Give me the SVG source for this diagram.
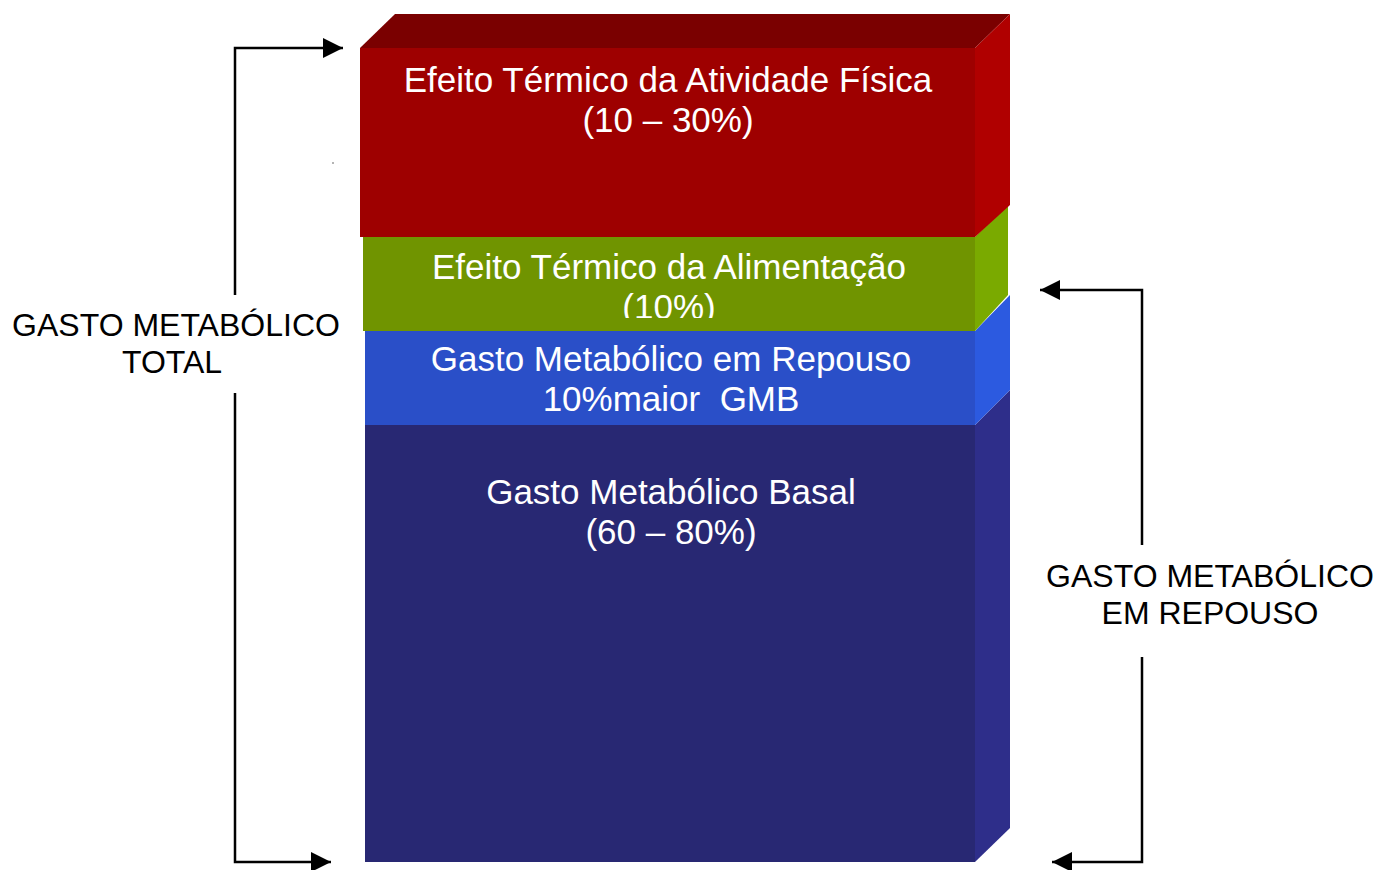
<svg xmlns="http://www.w3.org/2000/svg" width="1380" height="870" viewBox="0 0 1380 870">
<style>
.t{font-family:"Liberation Sans",Arial,sans-serif;font-size:35px;fill:#ffffff;text-anchor:middle;white-space:pre}
.l{font-family:"Liberation Sans",Arial,sans-serif;font-size:32px;fill:#000000;text-anchor:middle}
.c{fill:none;stroke:#000;stroke-width:2.5}
</style>
<defs>
<marker id="ah" viewBox="0 0 10 10" refX="10" refY="5" markerWidth="20" markerHeight="22" markerUnits="userSpaceOnUse" orient="auto">
<path d="M0,0 L10,5 L0,10 Z" fill="#000"/>
</marker>
<clipPath id="gclip"><rect x="360" y="237" width="620" height="81"/></clipPath>
</defs>
<rect width="1380" height="870" fill="#ffffff"/>
<g id="basal">
<rect x="365" y="425" width="610" height="437" fill="#282873"/>
<polygon points="975,425 1010,390 1010,828 975,862" fill="#2e2e8a"/>
<text class="t" x="671" y="504">Gasto Metabólico Basal</text>
<text class="t" x="671" y="544">(60 – 80%)</text>
</g>
<g id="repouso">
<rect x="365" y="331" width="610" height="94" fill="#2a4fc8"/>
<polygon points="975,331 1010,295 1010,390 975,425" fill="#2c5ae0"/>
<text class="t" x="671" y="371">Gasto Metabólico em Repouso</text>
<text class="t" x="671" y="411" xml:space="preserve">10%maior  GMB</text>
</g>
<g id="alimentacao">
<rect x="363" y="237" width="612" height="94" fill="#709400"/>
<polygon points="975,237 1008,205 1008,295 975,331" fill="#7aaa00"/>
<g clip-path="url(#gclip)">
<text class="t" x="669" y="279">Efeito Térmico da Alimentação</text>
<text class="t" x="669" y="319">(10%)</text>
</g>
</g>
<g id="atividade">
<polygon points="360,48 395,14 1010,14 975,48" fill="#7a0000"/>
<polygon points="975,48 1010,14 1010,205 975,237" fill="#b00000"/>
<rect x="360" y="48" width="615" height="189" fill="#9e0000"/>
<text class="t" x="668" y="92">Efeito Térmico da Atividade Física</text>
<text class="t" x="668" y="132">(10 – 30%)</text>
</g>
<g id="label-total">
<text class="l" x="176" y="336">GASTO METABÓLICO</text>
<text class="l" x="172" y="373">TOTAL</text>
</g>
<g id="label-repouso">
<text class="l" x="1210" y="587">GASTO METABÓLICO</text>
<text class="l" x="1210" y="624">EM REPOUSO</text>
</g>
<g id="connectors">
<polyline class="c" points="235,295 235,48 343,48" marker-end="url(#ah)"/>
<polyline class="c" points="235,393 235,862 331,862" marker-end="url(#ah)"/>
<polyline class="c" points="1142,545 1142,290 1040,290" marker-end="url(#ah)"/>
<polyline class="c" points="1142,657 1142,862 1052,862" marker-end="url(#ah)"/>
</g>
<circle cx="333" cy="163" r="0.8" fill="#555"/>
</svg>
